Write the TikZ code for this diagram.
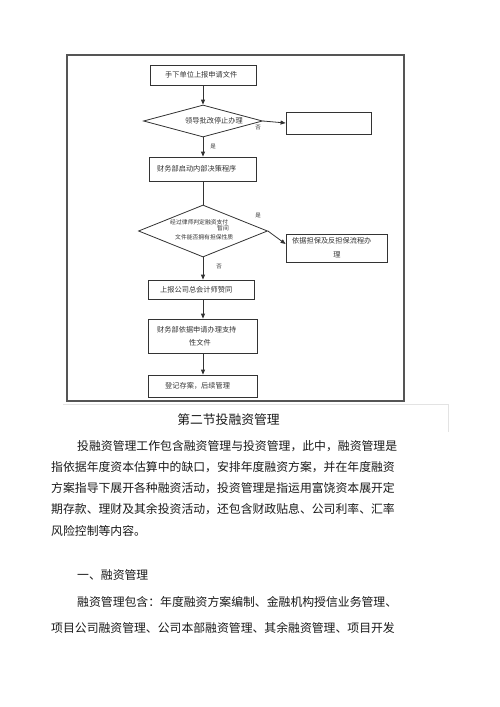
\documentclass[tikz,border=0pt]{standalone}
\usepackage{fontspec}
\setmainfont{Noto Sans CJK SC}
\usetikzlibrary{shapes.geometric,arrows.meta}
\definecolor{boxc}{HTML}{333333}
\definecolor{framec}{HTML}{555555}
\definecolor{txtc}{HTML}{1A1A1A}
\definecolor{ftxt}{HTML}{333333}
\tikzset{
  box/.style={draw=boxc, line width=0.8pt, inner sep=0, rectangle},
  dia/.style={draw=boxc, line width=0.8pt, inner sep=0, diamond},
  ftext/.style={anchor=west, inner sep=0, text=ftxt, font=\fontsize{7.2}{8}\selectfont},
  dtext/.style={anchor=west, inner sep=0, text=ftxt, font=\fontsize{5.8}{6.5}\selectfont},
  lab/.style={inner sep=0, text=ftxt, font=\fontsize{5.5}{6}\selectfont},
  body/.style={anchor=west, inner sep=0, text=txtc, font=\fontsize{11.85}{14}\selectfont},
  arr/.style={draw=boxc, line width=0.8pt, -{Triangle[length=5pt,width=4pt]}},
  conn/.style={draw=boxc, line width=0.8pt},
  faint/.style={draw=gray!22, line width=0.8pt}
}
\begin{document}
\begin{tikzpicture}[x=1pt,y=-1pt]
\useasboundingbox[fill=white] (0,0) rectangle (500,707);
% frame
\node[draw=framec, line width=1.2pt, minimum width=337, minimum height=346, inner sep=0] (frame) at (235.5,228) {};
\coordinate (f1) at (63,404);
\coordinate (f2) at (448,404);
\coordinate (f3) at (448,432);
\draw[faint] (f1) -- (f2) -- (f3);
% boxes
\node[box, minimum width=106, minimum height=20] (b1) at (203,75) {};
\node[ftext] (t1) at (165,75) {手下单位上报申请文件};
\node[dia, minimum width=119, minimum height=32] (d1) at (203,121) {};
\node[ftext] (td1) at (185,120.5) {领导批改停止办理};
\node[box, minimum width=85, minimum height=22] (r1) at (328.5,123) {};
\node[box, minimum width=107, minimum height=24] (b2) at (203,169) {};
\node[ftext] (t2) at (157,169) {财务部启动内部决策程序};
\node[dia, minimum width=129, minimum height=52] (d2) at (203,231) {};
\node[dtext] (td2a) at (170,222) {经过律师判定融资支付};
\node[dtext] (td2b) at (217,228.5) {暂间};
\node[dtext] (td2c) at (175,237) {文件能否拥有担保性质};
\node[box, minimum width=101, minimum height=28] (b3) at (336.5,248) {};
\node[ftext] (t3a) at (292,240.5) {依据担保及反担保流程办};
\node[ftext, anchor=center] (t3b) at (337,255) {理};
\node[box, minimum width=106, minimum height=19] (b4) at (201,289.5) {};
\node[ftext] (t4) at (160,289.5) {上报公司总会计师赞同};
\node[box, minimum width=109, minimum height=34] (b5) at (202.5,336) {};
\node[ftext] (t5a) at (157,330) {财务部依据申请办理支持};
\node[ftext, anchor=center] (t5b) at (200,343) {性文件};
\node[box, minimum width=109, minimum height=22] (b6) at (202.5,386) {};
\node[ftext] (t6) at (165,386) {登记存案，后续管理};
% labels
\node[lab] (l1) at (258,127.5) {否};
\node[lab] (l2) at (213,147) {是};
\node[lab] (l3) at (258,216) {是};
\node[lab] (l4) at (219,267) {否};
% connectors
\draw[arr] (b1.south) -- (b1.south |- d1.north);
\draw[arr] (d1.east) -- (r1.west);
\draw[arr] (d1.south) -- (d1.south |- b2.north);
\draw[conn] (d2.north |- b2.south) -- (d2.north);
\draw[arr] (d2.east) -- ([yshift=4pt]b3.west);
\draw[arr] (d2.south) -- (d2.south |- b4.north);
\draw[arr] (d2.south |- b4.south) -- (d2.south |- b5.north);
\draw[arr] (d2.south |- b5.south) -- (d2.south |- b6.north);
% body text
\node[anchor=center, inner sep=0, text=txtc, font=\fontsize{12.8}{15}\selectfont] (title) at (228.5,420) {第二节投融资管理};
\node[body] (p1) at (77,446) {投融资管理工作包含融资管理与投资管理，此中，融资管理是};
\node[body] (p2) at (51,467.5) {指依据年度资本估算中的缺口，安排年度融资方案，并在年度融资};
\node[body] (p3) at (51,488.5) {方案指导下展开各种融资活动，投资管理是指运用富饶资本展开定};
\node[body] (p4) at (51,509.5) {期存款、理财及其余投资活动，还包含财政贴息、公司利率、汇率};
\node[body] (p5) at (51,531) {风险控制等内容。};
\node[body] (p6) at (77,575) {一、融资管理};
\node[body] (p7) at (77,602) {融资管理包含：年度融资方案编制、金融机构授信业务管理、};
\node[body] (p8) at (51,628) {项目公司融资管理、公司本部融资管理、其余融资管理、项目开发};
\end{tikzpicture}
\end{document}
